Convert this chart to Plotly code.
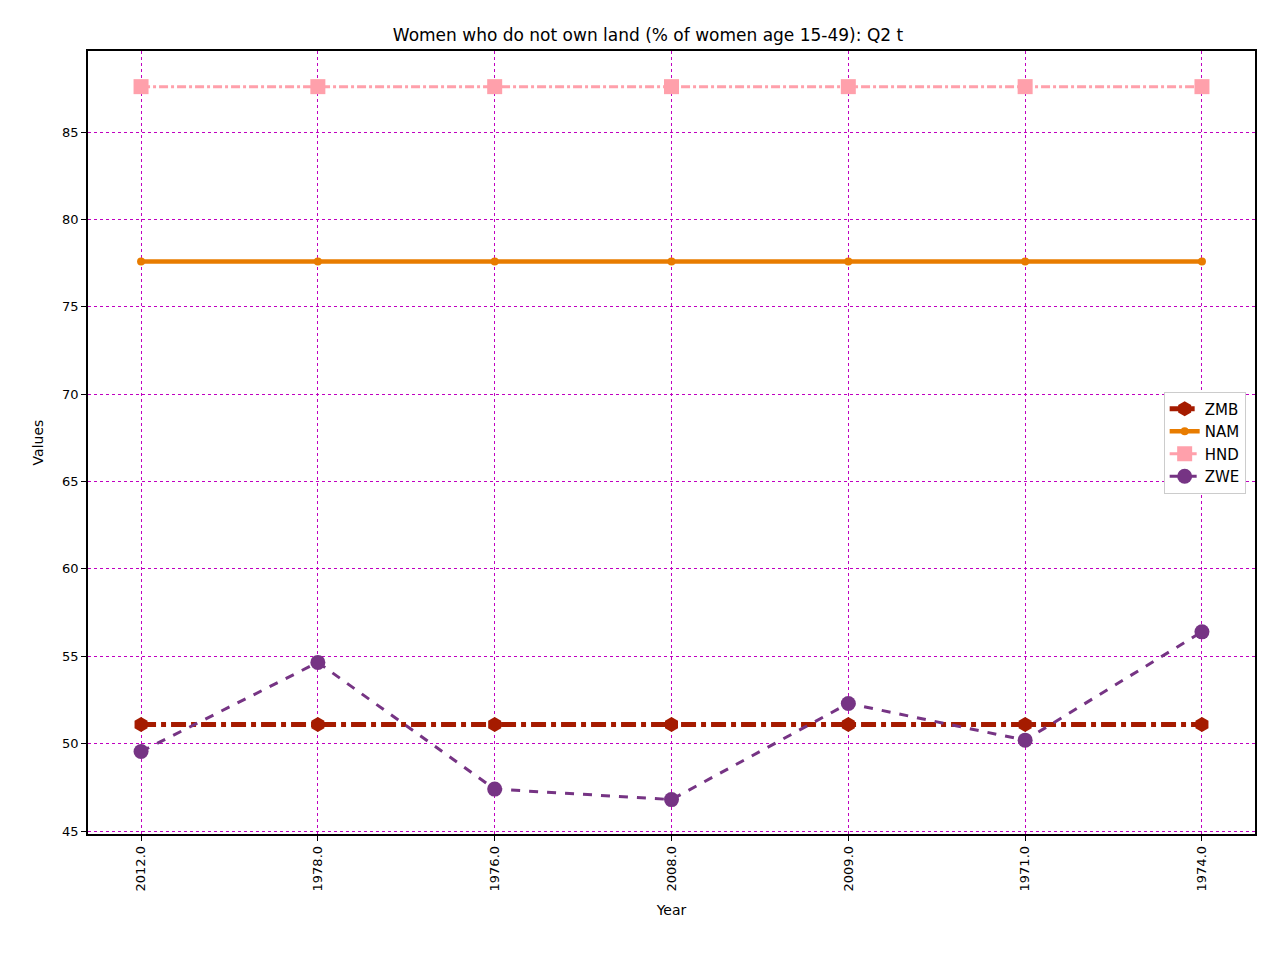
import plotly.graph_objects as go

years = ["2012.0", "1978.0", "1976.0", "2008.0", "2009.0", "1971.0", "1974.0"]
zmb = [51.1, 51.1, 51.1, 51.1, 51.1, 51.1, 51.1]
nam = [77.6, 77.6, 77.6, 77.6, 77.6, 77.6, 77.6]
hnd = [87.6, 87.6, 87.6, 87.6, 87.6, 87.6, 87.6]
zwe = [49.55, 54.65, 47.4, 46.8, 52.3, 50.2, 56.4]

fig = go.Figure()
fig.add_trace(go.Scatter(x=years, y=zmb, name="ZMB", mode="lines+markers",
                         line=dict(color="#a51b00", width=5, dash="dashdot"),
                         marker=dict(symbol="hexagon", size=15, color="#a51b00")))
fig.add_trace(go.Scatter(x=years, y=nam, name="NAM", mode="lines+markers",
                         line=dict(color="#e87c00", width=4.5),
                         marker=dict(symbol="circle", size=8, color="#e87c00")))
fig.add_trace(go.Scatter(x=years, y=hnd, name="HND", mode="lines+markers",
                         line=dict(color="#ffa0ab", width=3, dash="dashdot"),
                         marker=dict(symbol="square", size=15, color="#ffa0ab")))
fig.add_trace(go.Scatter(x=years, y=zwe, name="ZWE", mode="lines+markers",
                         line=dict(color="#763484", width=3, dash="dash"),
                         marker=dict(symbol="circle", size=15, color="#763484")))

axis_common = dict(showline=True, linecolor="black", linewidth=1.5, mirror=True,
                   showgrid=True, gridcolor="#c000c0", griddash="dot", gridwidth=0.5,
                   ticks="outside", ticklen=5, tickcolor="black", zeroline=False,
                   tickfont=dict(size=13, color="black"))

fig.update_layout(
    width=1280, height=960, plot_bgcolor="white", paper_bgcolor="white",
    font=dict(family="DejaVu Sans", color="black"),
    margin=dict(l=80, r=33, t=43, b=134),
    title=dict(text="Women who do not own land (% of women age 15-49): Q2 t",
               x=0.5, xanchor="center", y=0.978, font=dict(size=17)),
    xaxis=dict(title=dict(text="Year", font=dict(size=14)), tickangle=-90,
               range=[-0.3, 6.3], **axis_common),
    yaxis=dict(title=dict(text="Values", font=dict(size=14)), range=[44.83, 89.64],
               tickvals=[45, 50, 55, 60, 65, 70, 75, 80, 85], **axis_common),
    legend=dict(x=0.992, y=0.5, xanchor="right", yanchor="middle",
                bordercolor="#cccccc", borderwidth=1, bgcolor="white",
                font=dict(size=15)),
)
fig.write_html("out.html")
